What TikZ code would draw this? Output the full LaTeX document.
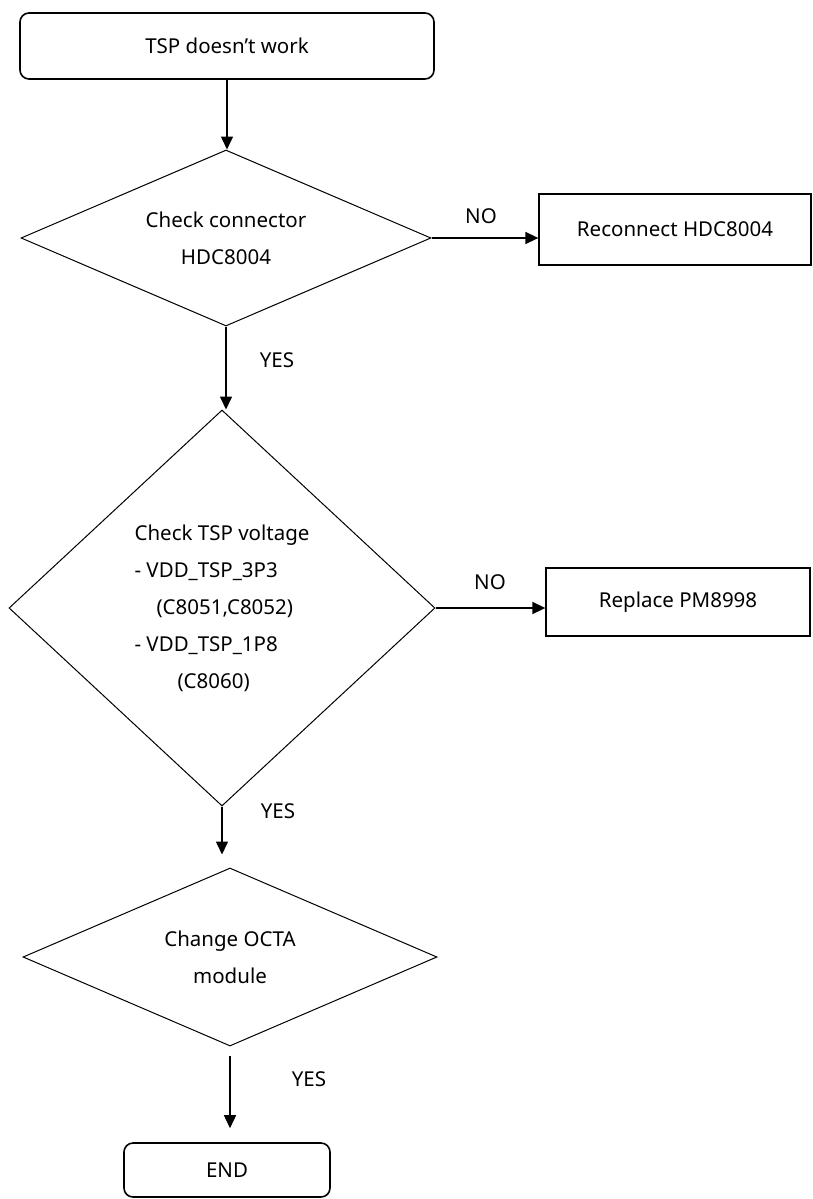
\documentclass[tikz,border=0pt]{standalone}
\usepackage{fontspec}
\setmainfont{Noto Sans}
\usetikzlibrary{shapes.geometric,arrows.meta}
\begin{document}
\begin{tikzpicture}[x=1pt,y=-1pt,
  every node/.style={font=\fontsize{20.5}{37}\selectfont},
  term/.style={draw,line width=1.6pt,rounded corners=9pt,inner sep=0},
  act/.style={draw,line width=1.3pt,inner sep=0},
  dec/.style={draw,diamond,line width=1pt,inner sep=0,align=center},
  arr/.style={line width=1.6pt,-{Triangle[length=13pt,width=12pt]}},
  lbl/.style={inner sep=0}]
\useasboundingbox (0,0) rectangle (812,1199);

\node[term, minimum width=414pt, minimum height=66pt] (start) at (227,46) {TSP doesn’t work};
\node[dec, shape aspect=2.33, minimum width=410pt, minimum height=176pt] (d1) at (226,238) {Check connector\\HDC8004};
\node[act, minimum width=272pt, minimum height=71pt] (recon) at (675,229.5) {Reconnect HDC8004};
\node[dec, shape aspect=1.08, minimum width=426pt, minimum height=396pt, align=left] (d2) at (222,608)
  {Check TSP voltage\\- VDD\_TSP\_3P3\\\hspace*{22pt}(C8051,C8052)\\- VDD\_TSP\_1P8\\\hspace*{43pt}(C8060)};
\node[act, minimum width=264pt, minimum height=68pt] (repl) at (678,602) {Replace PM8998};
\node[dec, shape aspect=2.33, minimum width=414pt, minimum height=178pt] (d3) at (230,957) {Change OCTA\\module};
\node[term, minimum width=206pt, minimum height=54pt] (end) at (227,1170) {END};

\draw[arr] (start.south) -- (start.south |- d1.north);
\draw[arr] (d1.east) -- (d1.east -| recon.west);
\draw[arr] (d1.south) -- (d1.south |- d2.north);
\draw[arr] (d2.east) -- (d2.east -| repl.west);
\draw[arr, shorten >=13pt] (d2.south) -- (d2.south |- d3.north);
\draw[arr, shorten <=9pt, shorten >=14pt] (d3.south) -- (d3.south |- end.north);

\node[lbl] (no1) at (481,216) {NO};
\node[lbl] (yes1) at (277,360) {YES};
\node[lbl] (no2) at (490,582) {NO};
\node[lbl] (yes2) at (278,811) {YES};
\node[lbl] (yes3) at (309,1079) {YES};
\end{tikzpicture}
\end{document}
